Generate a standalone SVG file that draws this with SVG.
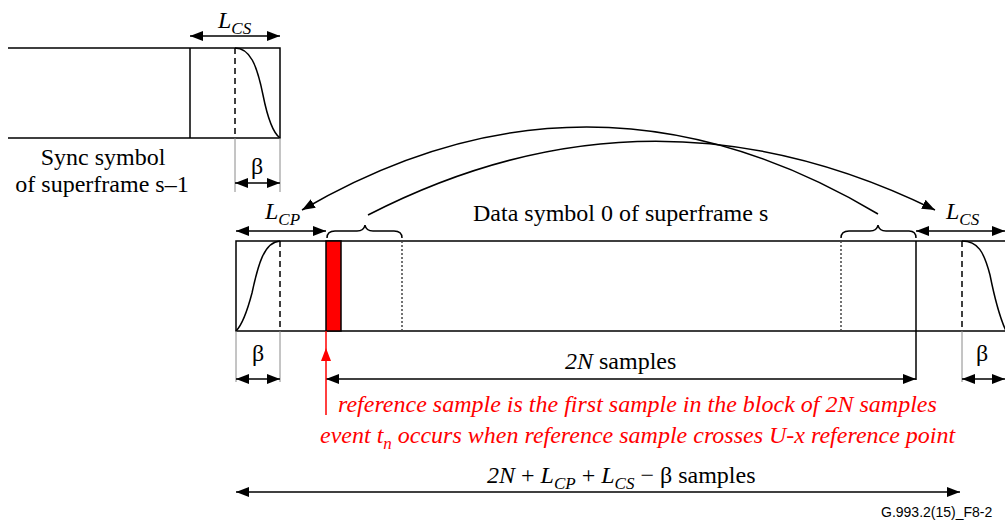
<svg xmlns="http://www.w3.org/2000/svg" width="1005" height="521" viewBox="0 0 1005 521">
<style>
.ln{stroke:#000;stroke-width:1.5;fill:none}
.ext{stroke:#8a8a8a;stroke-width:1;fill:none}
.dash{stroke:#000;stroke-width:1.5;stroke-dasharray:6,4;fill:none}
.dot{stroke:#444;stroke-width:1.5;stroke-dasharray:2,2;fill:none}
.t{font-size:24px;fill:#000}
.i{font-style:italic}
.sub{font-size:17px}
.red{fill:#ff0000}
.foot{font-size:14px;fill:#000}
</style>
<defs>
<marker id="ah" viewBox="0 0 13 10" refX="13" refY="5" markerWidth="13" markerHeight="10" markerUnits="userSpaceOnUse" orient="auto-start-reverse"><path d="M0,0 L13,5 L0,10 z" fill="#000"/></marker>
</defs>

<g id="sync-symbol" font-family="Liberation Serif, DejaVu Serif, serif">
<path class="ln" d="M8,48 H280 V138 H8 M190,48 V138"/>
<path class="dash" d="M235,48 V138"/>
<path class="ln" d="M235,48 C250,48 257,65 263,95 C268,120 273,133 280,138"/>
<path class="ext" d="M235,138 V192 M280,138 V192"/>
<text class="t" x="103" y="165" text-anchor="middle">Sync symbol</text>
<text class="t" x="102" y="192" text-anchor="middle">of superframe s–1</text>
<text class="t" x="218" y="28"><tspan class="i">L</tspan><tspan class="i sub" dy="6">CS</tspan></text>
<text class="t" x="257" y="174" text-anchor="middle">β</text>
</g>

<g id="data-symbol" font-family="Liberation Serif, DejaVu Serif, serif">
<path class="ln" d="M1006,241 H236 V331 H1006"/>
<path class="dash" d="M280,241 V331"/>
<path class="ln" d="M236,331 C242,325 247,312 252,293 C258,265 264,242 280,241"/>
<path class="dot" d="M402,241 V331 M841,241 V331"/>
<path class="ln" d="M916,241 V380"/>
<path class="dash" d="M962,241 V331"/>
<path class="ln" d="M962,241 C978,241 984,252 990,275 C995,300 1000,318 1006,331"/>
<path class="ext" d="M236,331 V382 M280,331 V382 M962,331 V382"/>
<rect x="326" y="241" width="15" height="90" fill="#ff0000" stroke="#000" stroke-width="1.5"/>
<text class="t" x="473" y="221">Data symbol 0 of superframe s</text>
</g>

<g id="braces">
<path class="ln" d="M327,238 Q327,231 335,231 L357,231 Q364,231 365,225 Q366,231 373,231 L394,231 Q402,231 402,238"/>
<path class="ln" d="M841,238 Q841,231 849,231 L870,231 Q877,231 878,225 Q879,231 886,231 L909,231 Q916,231 916,238"/>
</g>

<g id="labels" font-family="Liberation Serif, DejaVu Serif, serif">
<text class="t" x="265" y="219"><tspan class="i">L</tspan><tspan class="i sub" dy="6">CP</tspan></text>
<text class="t" x="946" y="219"><tspan class="i">L</tspan><tspan class="i sub" dy="6">CS</tspan></text>
<text class="t" x="258" y="361" text-anchor="middle">β</text>
<text class="t" x="976" y="361">β</text>
<text class="t" x="565" y="369"><tspan class="i">2N</tspan> samples</text>
<text class="t i red" x="338" y="412">reference sample is the first sample in the block of 2N samples</text>
<text class="t i red" x="320" y="443">event t<tspan class="sub" dy="6">n</tspan><tspan dy="-6"> occurs when reference sample crosses U-x reference point</tspan></text>
<text class="t" x="487" y="483"><tspan class="i">2N</tspan> + <tspan class="i">L</tspan><tspan class="i sub" dy="6">CP</tspan><tspan dy="-6"> + </tspan><tspan class="i">L</tspan><tspan class="i sub" dy="6">CS</tspan><tspan dy="-6"> − β samples</tspan></text>
<text class="foot" x="881" y="517" font-family="Liberation Sans, Arial, sans-serif">G.993.2(15)_F8-2</text>
</g>

<g id="connectors">
<path class="ln" d="M190,36 H280" marker-start="url(#ah)" marker-end="url(#ah)"/>
<path class="ln" d="M235,183 H280" marker-start="url(#ah)" marker-end="url(#ah)"/>
<path class="ln" d="M236,231 H326" marker-start="url(#ah)" marker-end="url(#ah)"/>
<path class="ln" d="M916,231 H1005" marker-start="url(#ah)" marker-end="url(#ah)"/>
<path class="ln" d="M236,379 H280" marker-start="url(#ah)" marker-end="url(#ah)"/>
<path class="ln" d="M962,379 H1005" marker-start="url(#ah)" marker-end="url(#ah)"/>
<path class="ln" d="M326,379 H916" marker-start="url(#ah)" marker-end="url(#ah)"/>
<path class="ln" d="M236,492 H960" marker-start="url(#ah)" marker-end="url(#ah)"/>
<path class="ln" d="M878,214 Q590,42 302,210" marker-end="url(#ah)"/>
<path class="ln" d="M368,215 Q650,70 935,210" marker-end="url(#ah)"/>
<path d="M326,415 V331" stroke="#ff0000" stroke-width="1.5" fill="none"/>
<path d="M326,348 L321,361 L331,361 z" fill="#ff0000"/>
</g>
</svg>
